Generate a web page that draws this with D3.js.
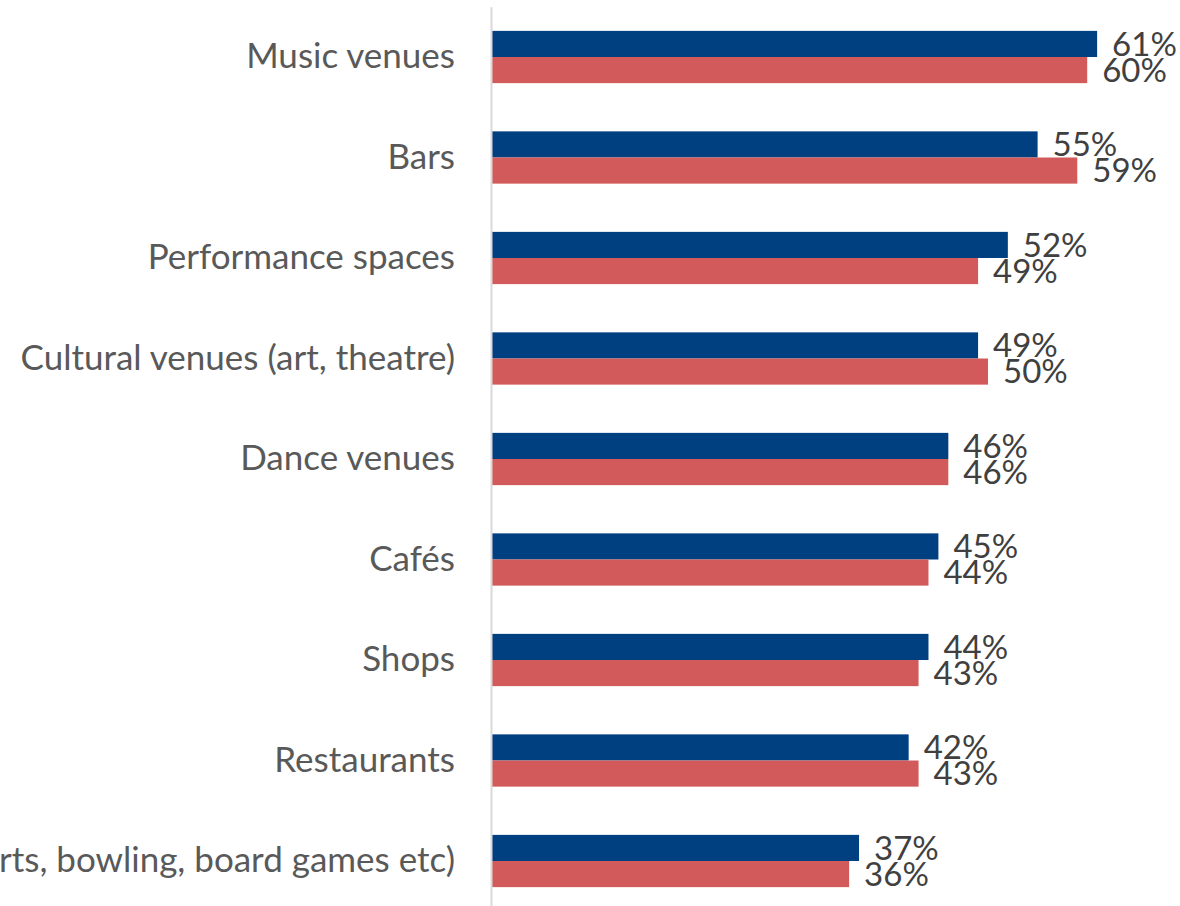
<!DOCTYPE html>
<html>
<head>
<meta charset="utf-8">
<script src="https://cdn.jsdelivr.net/npm/d3@7"></script>
<style>
  html, body { margin: 0; padding: 0; background: #ffffff; overflow: hidden; }
  svg { display: block; }
</style>
</head>
<body>
<svg id="chart" width="1180" height="906"></svg>
<script>
// Venue categories, top to bottom
const categories = [
  "Music venues",
  "Bars",
  "Performance spaces",
  "Cultural venues (art, theatre)",
  "Dance venues",
  "Cafés",
  "Shops",
  "Restaurants",
  "Activity venues (darts, bowling, board games etc)"
];

// Two series, in percent
const seriesNames = ["Series A", "Series B"];
const seriesA = [61, 55, 52, 49, 46, 45, 44, 42, 37];
const seriesB = [60, 59, 49, 50, 46, 44, 43, 43, 36];
const seriesColors = ["#003f80", "#d35a5a"];

const svg = d3.select("#chart");

const y = d3.scaleBand()
  .domain(categories)
  .range([6.75, 911.25])
  .paddingInner(0.48)
  .paddingOuter(0.24);

const ySub = d3.scaleBand()
  .domain(seriesNames)
  .range([0, y.bandwidth()]);

const x = d3.scaleLinear()
  .domain([0, 100])
  .range([492, 1484]);

const rows = categories.map((c, i) => ({
  category: c,
  values: [
    { series: seriesNames[0], value: seriesA[i], color: seriesColors[0] },
    { series: seriesNames[1], value: seriesB[i], color: seriesColors[1] }
  ]
}));

// Bars
const groups = svg.append("g")
  .selectAll("g")
  .data(rows)
  .join("g")
  .attr("transform", d => `translate(0,${y(d.category)})`);

groups.selectAll("rect")
  .data(d => d.values)
  .join("rect")
  .attr("x", x(0))
  .attr("y", d => ySub(d.series))
  .attr("width", d => x(d.value) - x(0))
  .attr("height", ySub.bandwidth())
  .attr("fill", d => d.color);

// Value labels
groups.selectAll("text")
  .data(d => d.values)
  .join("text")
  .attr("x", d => x(d.value) + 15)
  .attr("y", d => ySub(d.series) + ySub.bandwidth() / 2)
  .attr("dy", "0.36em")
  .attr("font-family", "Lato, 'Open Sans', sans-serif")
  .attr("font-size", 33)
  .attr("fill", "#404040")
  .text(d => d.value + "%");

// Category axis
const axis = svg.append("g")
  .attr("transform", `translate(${x(0) - 1},0)`)
  .call(d3.axisLeft(y).tickSize(0).tickPadding(36));

axis.select(".domain")
  .attr("stroke", "#d9d9d9")
  .attr("stroke-width", 2);

axis.selectAll(".tick text")
  .attr("font-family", "Lato, 'Open Sans', sans-serif")
  .attr("font-size", 35)
  .attr("fill", "#595959");
</script>
</body>
</html>
